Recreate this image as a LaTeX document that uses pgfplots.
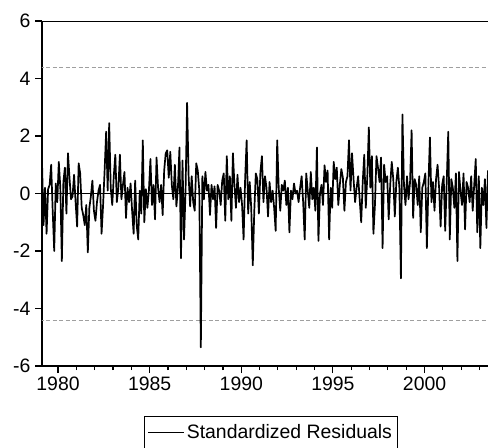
\documentclass[border=0pt]{standalone}
\usepackage{fontspec}
\setmainfont{Liberation Sans}
\usepackage{pgfplots}
\pgfplotsset{compat=1.18}
\usepackage{pgfplotstable}

\pgfplotstableread{
v
1.10
-1.10
0.20
-1.40
0.15
0.30
1.00
-0.60
-2.00
0.35
-0.30
1.10
0.20
-2.35
0.40
0.90
-0.70
1.40
0.55
-0.20
-0.10
0.65
-0.30
-1.15
1.05
0.70
-0.50
-0.75
-1.10
-0.40
-2.05
-0.50
-0.10
0.45
-0.60
-0.95
-0.30
0.10
0.30
-1.40
-0.40
0.80
2.15
0.10
2.45
0.20
-0.40
0.60
1.35
-0.30
0.20
1.35
-0.20
0.30
0.75
-0.85
0.20
-0.30
0.35
-0.60
-1.40
0.45
-1.10
-1.60
0.10
-0.70
1.85
-1.00
0.15
-0.50
0.10
1.20
-0.40
0.30
-0.90
1.25
0.20
-0.30
0.30
-0.75
0.80
1.40
1.50
0.55
1.45
0.30
-0.20
1.00
-0.45
0.20
1.60
-2.25
1.15
-1.60
0.10
3.15
0.60
-0.45
0.60
-0.30
-0.60
1.05
0.80
0.10
-5.35
0.60
-0.20
0.75
0.10
0.30
-0.75
0.30
-0.20
0.25
-1.20
0.30
0.10
-0.40
0.45
0.70
-0.95
1.30
-0.20
0.60
-0.95
1.40
0.30
-0.50
0.65
-0.30
0.20
-0.40
-1.60
0.50
1.85
-0.70
0.40
-0.50
-2.50
-0.60
0.70
0.50
-0.70
0.75
1.30
-0.30
0.60
0.20
-0.80
0.40
-0.30
0.10
-0.50
-1.30
1.85
0.20
-0.60
0.30
0.10
0.45
-0.40
0.20
-1.35
0.10
-0.20
0.35
0.00
0.10
-0.30
0.20
0.60
-0.30
-1.60
0.70
0.10
-0.50
0.75
-0.20
0.20
-0.60
1.60
-1.65
0.00
0.30
-0.40
0.98
0.40
0.80
-1.60
0.20
-0.50
1.10
0.50
0.90
-0.40
0.30
0.85
0.55
-0.60
0.40
0.60
1.85
0.10
1.40
0.50
-0.30
0.20
0.60
-0.20
-1.00
0.40
1.35
-0.50
0.60
2.30
0.20
1.30
-1.40
-0.40
1.30
0.90
0.40
1.25
-1.90
1.00
0.40
0.60
-0.90
0.30
1.10
0.50
-0.80
0.40
0.90
0.20
-2.95
2.75
0.30
-0.40
0.60
-0.20
0.40
2.20
-0.85
0.50
0.30
-0.40
0.60
-1.35
0.20
0.40
0.70
-1.90
0.30
1.95
-0.30
0.40
-0.60
0.50
1.00
0.20
-1.15
0.30
0.60
-1.30
0.40
2.15
-1.60
0.50
0.20
-0.50
0.70
-2.35
0.75
0.10
-0.40
0.70
-1.25
0.40
0.20
-0.30
0.60
-0.60
0.30
1.20
-1.35
0.60
-1.90
0.20
-0.40
0.50
-1.20
0.80
}\resid

\begin{document}
\begin{tikzpicture}
\begin{axis}[
  scale only axis,
  width=446bp, height=345bp,
  xmin=1979.125, xmax=2003.46,
  ymin=-6, ymax=6,
  axis x line*=bottom, axis y line*=left,
  axis line style={-, line width=1.8bp},
  xtick={1980,1985,...,2000},
  minor xtick={1979,...,2004},
  ytick={-6,-4,...,6},
  scaled x ticks=false,
  tick align=outside,
  major tick length=7bp, minor tick length=4bp,
  tick style={black, line width=1.1bp},
  /pgf/number format/assume math mode=true,
  /pgf/number format/1000 sep={},
  ticklabel style={font=\fontsize{19.5}{22}\selectfont},
  yticklabel style={xshift=-1bp},
  legend style={at={(0.513,-0.145)}, anchor=north, draw=black, line width=0.9bp,
    font=\fontsize{19.5}{22}\selectfont, inner xsep=3bp, inner ysep=6bp, legend cell align=left},
  legend image code/.code={\draw[#1, line width=1.2bp] (0bp,0bp) -- (36bp,0bp);},
]
\addplot[gray!75, line width=0.9bp, dash pattern=on 4bp off 2.5bp, forget plot] coordinates {(1979,4.4) (2004,4.4)};
\addplot[gray!75, line width=0.9bp, dash pattern=on 4bp off 2.5bp, forget plot] coordinates {(1979,-4.4) (2004,-4.4)};
\addplot[black, line width=1.1bp, forget plot] coordinates {(1979,0) (2004,0)};
\addplot[black, line width=1.7bp, line join=round] table[x expr={1979.125+\coordindex/12}, y=v] {\resid};
\addlegendentry{Standardized Residuals}
\draw[line width=1.8bp] (rel axis cs:0,1) -- (rel axis cs:1,1);
\coordinate (ll) at (rel axis cs:0,0);
\coordinate (ur) at (rel axis cs:1,1);
\end{axis}
\pgfresetboundingbox
\path[use as bounding box] ([shift={(-42bp,-82bp)}]ll) rectangle ([shift={(0bp,21bp)}]ur);
\end{tikzpicture}
\end{document}
